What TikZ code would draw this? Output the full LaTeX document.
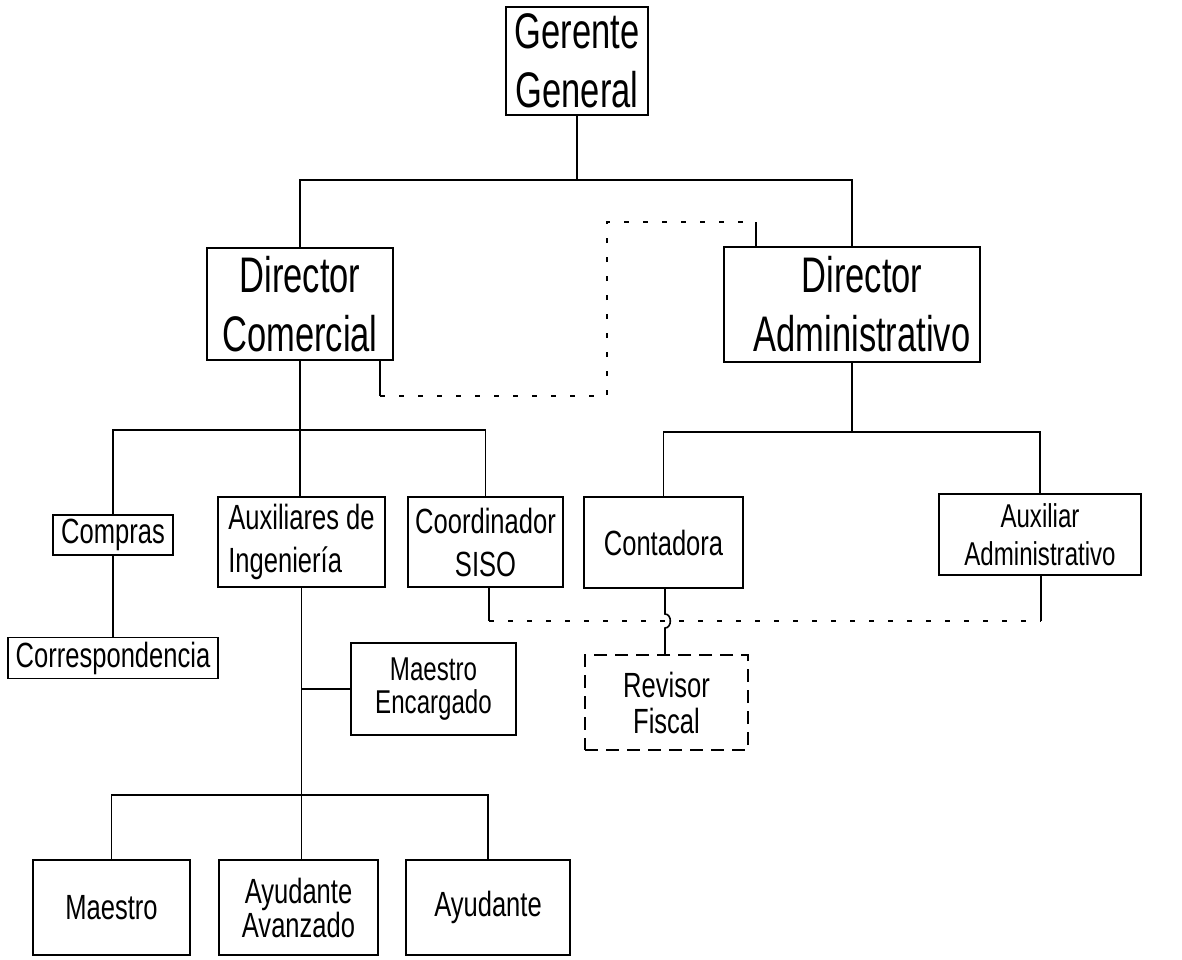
\documentclass[tikz,border=0pt]{standalone}
\usepackage{fontspec}
\newfontfamily\cfa[FakeStretch=0.69]{Liberation Sans}
\newfontfamily\cfb[FakeStretch=0.73]{Liberation Sans}
\usetikzlibrary{calc}
\begin{document}
\begin{tikzpicture}[x=1pt,y=-1pt,
  box/.style={draw, line width=1.6pt, inner sep=0pt, align=center, fill=white},
  big/.style={font=\cfa\fontsize{50}{59}\selectfont},
  mid/.style={font=\cfb\fontsize{35}{43}\selectfont},
  wire/.style={line width=1.6pt},
  dotline/.style={line width=1.6pt, dash pattern=on 5pt off 14pt},
  dashbox/.style={dash pattern=on 13pt off 8pt}
]
\fill[white] (0,0) rectangle (1182,959);
\useasboundingbox (0,0) rectangle (1182,959);

% nodes
\node[box,big,minimum width=142pt,minimum height=108pt] (gg) at (577,61) {Gerente\\General};
\node[box,big,minimum width=186pt,minimum height=112pt] (dc) at (300,304) {Director\\Comercial};
\node[box,big,minimum width=256pt,minimum height=115pt] (da) at (852,304.5) {\hspace*{20pt}Director\\\hspace*{20pt}Administrativo};

\node[box,mid,minimum width=120pt,minimum height=40pt] (compras) at (113,535) {Compras};
\node[box,mid,minimum width=210pt,minimum height=41pt] (corr) at (113,658) {Correspondencia};
\node[box,mid,align=left,minimum width=167pt,minimum height=90pt] (aux) at (301.5,542) {Auxiliares de\\Ingenier\'ia};
\node[box,mid,minimum width=155pt,minimum height=90pt] (siso) at (485.5,542) {Coordinador\\SISO};
\node[box,mid,minimum width=159pt,minimum height=91pt] (cont) at (663.5,542.5) {Contadora};
\node[box,font=\cfb\fontsize{33}{38}\selectfont,minimum width=202pt,minimum height=81pt] (auxadm) at (1040,534.5) {Auxiliar\\Administrativo};
\node[box,font=\cfb\fontsize{33}{33}\selectfont,minimum width=165pt,minimum height=92pt] (enc) at (433.5,689) {Maestro\\Encargado};
\node[box,dashbox,font=\cfb\fontsize{35}{36}\selectfont,minimum width=163pt,minimum height=95pt] (rev) at (666.5,702.5) {Revisor\\Fiscal};

\node[box,mid,minimum width=157pt,minimum height=95pt] (mae) at (111.5,907.5) {Maestro};
\node[box,font=\cfb\fontsize{35}{34}\selectfont,minimum width=159pt,minimum height=95pt] (ava) at (298.5,907.5) {Ayudante\\Avanzado};
\node[box,mid,minimum width=164pt,minimum height=95pt] (ayu) at (488,907.5) {Ayudante};

% junctions
\coordinate (j1) at (577,180);
\coordinate (j2) at (300,430);
\coordinate (j3) at (301.5,795);
\coordinate (j4) at (852,432);

% tree connectors
\draw[wire] (gg.south) -- (j1);
\draw[wire] (dc.north) |- (j1) -| (da.north);
\draw[wire] (dc.south) -- (j2);
\draw[wire] (compras.north) |- (j2) -| (siso.north);
\draw[wire] (j2) -- (j2 |- aux.north);
\draw[wire] (compras.south) -- (corr.north);
\draw[wire] (aux.south) -- (j3);
\draw[wire] (mae.north) |- (j3) -| (ayu.north);
\draw[wire] (j3) -- (j3 |- ava.north);
\draw[wire] (aux.south |- enc.west) -- (enc.west);
\draw[wire] (da.south) -- (j4);
\draw[wire] (cont.north) |- (j4) -| (auxadm.north);

% dotted link Director Comercial -- Director Administrativo
\coordinate (p1) at (380,396);
\coordinate (p2) at (607,396);
\coordinate (p3) at (607,222);
\coordinate (p4) at (756,222);
\draw[wire] (dc.south -| p1) -- (p1);
\draw[dotline] (p1) -- (p2) -- (p3) -- (p4);
\draw[wire] (p4) -- (p4 |- da.north);

% dotted link Coordinador SISO -- Auxiliar Administrativo
\coordinate (q1) at (489,621);
\coordinate (q2) at (1041,621);
\draw[wire] (siso.south -| q1) -- (q1);
\draw[dotline] (q1) -- (q2);
\draw[wire] (q2) -- (q2 |- auxadm.south);

% Contadora -- Revisor Fiscal with hop
\coordinate (h1) at (665,614);
\coordinate (h2) at (665,628);
\draw[wire] (cont.south -| h1) -- (h1) to[out=0,in=0,looseness=1.3] (h2) -- (h2 |- rev.north);
\end{tikzpicture}
\end{document}
